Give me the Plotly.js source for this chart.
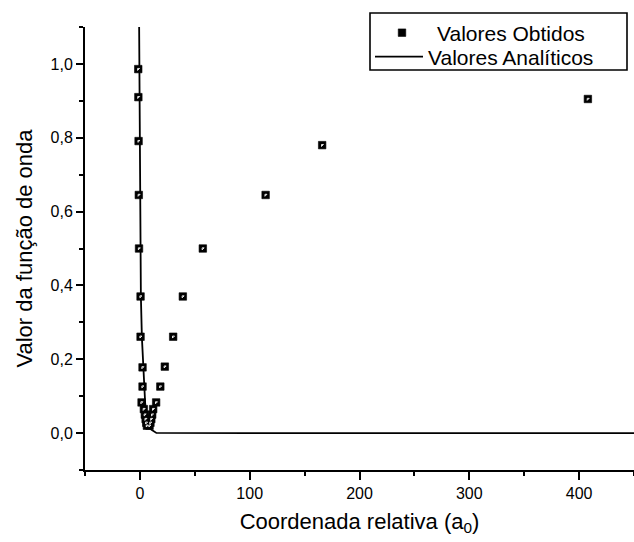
<!DOCTYPE html>
<html>
<head>
<meta charset="utf-8">
<script src="https://cdn.plot.ly/plotly-3.0.1.min.js"></script>
<style>
html,body{margin:0;padding:0;background:#fff;}
#chart{width:634px;height:542px;}
</style>
</head>
<body>
<div id="chart"></div>
<script>
// Valores Obtidos
var obtidosX = [-1.5, -1.4, -1.2, -1.0, -0.8, 0.6, 0.6, 2.4, 2.4, 1.5, 3.6, 4.5, 5.2, 5.8, 6.4,
                408, 166, 114.5, 57.3, 39.1, 30.3, 22.7, 18.6, 14.8, 12.1, 11.2, 10.4, 9.6, 8.8];
var obtidosY = [0.986, 0.910, 0.791, 0.645, 0.500, 0.370, 0.261, 0.178, 0.126, 0.083, 0.065, 0.050, 0.038, 0.028, 0.020,
                0.905, 0.780, 0.645, 0.500, 0.370, 0.261, 0.180, 0.126, 0.083, 0.065, 0.050, 0.038, 0.028, 0.020];

// Valores Analíticos
var analiticosX = [-0.8, -0.4, 0, 0.9, 1.8, 3.0, 4.8, 6.6, 8.5, 10.6, 13, 15, 100, 200, 300, 400, 450];
var analiticosY = [1.15, 0.90, 0.55, 0.37, 0.26, 0.18, 0.081, 0.027, 0.015, 0.009, 0.003, 0.0005, 0, 0, 0, 0, 0];

var xTickVals = [0, 100, 200, 300, 400];
var yTickVals = [0.0, 0.2, 0.4, 0.6, 0.8, 1.0];

var FONT = 'Liberation Sans, Arial, sans-serif';
var legendFont = {family: FONT, size: 21, color: '#000'};
var NB = '\u00a0';

var traces = [
  {
    x: analiticosX, y: analiticosY, type: 'scatter', mode: 'lines',
    name: 'Valores Analíticos',
    line: {color: '#000', width: 1.8},
    legend: 'legend2', hoverinfo: 'skip'
  },
  {
    x: obtidosX, y: obtidosY, type: 'scatter', mode: 'markers',
    name: 'Valores Obtidos',
    marker: {symbol: 'square', size: 7.5, color: '#000', line: {color: '#000', width: 0.6}},
    legend: 'legend'
  },
  {
    x: obtidosX, y: obtidosY, type: 'scatter', mode: 'markers',
    showlegend: false, hoverinfo: 'skip',
    marker: {symbol: 'triangle-nw-open', size: 2.2, color: '#fff', line: {color: '#fff', width: 0.9}}
  }
];

var layout = {
  width: 634, height: 542,
  margin: {l: 85, r: 0, t: 27, b: 72, autoexpand: false},
  paper_bgcolor: '#fff', plot_bgcolor: '#fff',
  separators: ',.',
  font: {family: FONT, color: '#000', size: 16},
  showlegend: true,
  legend: {
    x: (367 - 85) / 549, y: 1 - (33 - 27) / 443, xanchor: 'left', yanchor: 'middle',
    borderwidth: 0, bgcolor: 'rgba(0,0,0,0)',
    font: legendFont, itemwidth: 60
  },
  legend2: {
    x: (370 - 85) / 549, y: 1 - (57 - 27) / 443, xanchor: 'left', yanchor: 'middle',
    borderwidth: 0, bgcolor: 'rgba(0,0,0,0)',
    font: legendFont, itemwidth: 48
  },
  shapes: [{
    type: 'rect', xref: 'paper', yref: 'paper', layer: 'above',
    x0: (370 - 85) / 549, x1: (627 - 85) / 549,
    y0: 1 - (70 - 27) / 443, y1: 1 - (13 - 27) / 443,
    line: {color: '#000', width: 1.6}, fillcolor: '#fff'
  }],
  xaxis: {
    range: [-50, 450], showgrid: false, zeroline: false,
    showline: true, linecolor: '#000', linewidth: 2,
    ticks: 'outside', ticklen: 8, tickwidth: 2, tickcolor: '#000',
    tickvals: xTickVals, ticktext: xTickVals.map(String),
    tickfont: {family: FONT, size: 16, color: '#000'},
    minor: {dtick: 50, tick0: 0, ticks: 'outside', ticklen: 4, tickwidth: 2, tickcolor: '#000'},
    title: {text: 'Coordenada relativa (a<sub>0</sub>)', font: {family: FONT, size: 22, color: '#000'}, standoff: 12}
  },
  yaxis: {
    range: [-0.1, 1.1], showgrid: false, zeroline: false,
    showline: true, linecolor: '#000', linewidth: 2,
    ticks: 'outside', ticklen: 7, tickwidth: 2, tickcolor: '#000',
    tickvals: yTickVals, tickformat: '.1f',
    tickfont: {family: FONT, size: 16, color: '#000'},
    minor: {dtick: 0.1, tick0: 0, ticks: 'outside', ticklen: 4, tickwidth: 2, tickcolor: '#000'},
    title: {text: 'Valor da função de onda' + NB + NB + NB + NB + NB, font: {family: FONT, size: 22, color: '#000'}, standoff: 12}
  }
};

Plotly.newPlot('chart', traces, layout, {displayModeBar: false, staticPlot: true});
</script>
</body>
</html>
